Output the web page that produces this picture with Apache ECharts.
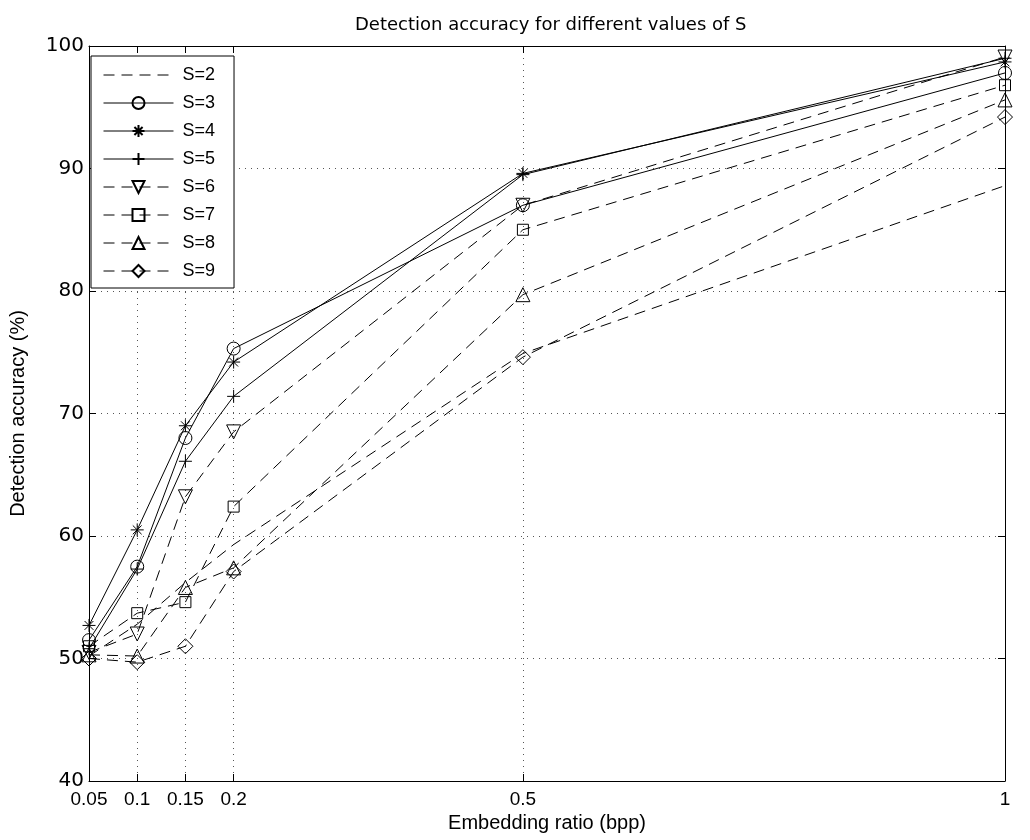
<!DOCTYPE html>
<html>
<head>
<meta charset="utf-8">
<script src="https://cdn.jsdelivr.net/npm/echarts@6/dist/echarts.min.js"></script>
<style>
  html, body { margin: 0; padding: 0; background: #ffffff; }
  #chart { width: 1030px; height: 840px; }
</style>
</head>
<body>
<div id="chart"></div>
<script>
// ratios de inserción (eje x) y ticks
const ratios = [0.05, 0.1, 0.15, 0.2, 0.5, 1];
const yTicks = [40, 50, 60, 70, 80, 90, 100];

// precisión de detección (%) para cada S
const s2 = [50.2, 52.8, 56.2, 59.3, 74.9, 88.6];
const s3 = [51.5, 57.5, 68.0, 75.3, 87.0, 97.8];
const s4 = [52.7, 60.5, 69.0, 74.2, 89.6, 98.7];
const s5 = [50.8, 57.3, 66.1, 71.4, 89.5, 99.0];
const s6 = [50.5, 52.0, 63.2, 68.5, 87.0, 99.1];
const s7 = [51.0, 53.7, 54.6, 62.4, 85.0, 96.8];
const s8 = [50.3, 50.2, 55.8, 57.4, 79.7, 95.6];
const s9 = [50.0, 49.7, 51.0, 57.1, 74.6, 94.2];

const seriesNames = ["S=2", "S=3", "S=4", "S=5", "S=6", "S=7", "S=8", "S=9"];
const seriesValues = [s2, s3, s4, s5, s6, s7, s8, s9];

const FONT = "Liberation Sans";
const WIDE = "DejaVu Sans";
const DASH = [11, 7];

// marcadores estilo MATLAB
const ASTERISK = "path://M5,0L5,10M0,5L10,5M1.6,1.6L8.4,8.4M8.4,1.6L1.6,8.4";
const PLUS = "path://M5,0L5,10M0,5L10,5";
const styles = [
  { dash: true,  symbol: "none",     size: 0 },
  { dash: false, symbol: "circle",   size: 13 },
  { dash: false, symbol: ASTERISK,   size: 13 },
  { dash: false, symbol: PLUS,       size: 13 },
  { dash: true,  symbol: "triangle", size: 14, rotate: 180 },
  { dash: true,  symbol: "rect",     size: 11 },
  { dash: true,  symbol: "triangle", size: 14 },
  { dash: true,  symbol: "diamond",  size: 15 }
];

const series = seriesNames.map((name, i) => {
  const st = styles[i];
  return {
    name: name,
    type: "line",
    data: ratios.map((x, j) => [x, seriesValues[i][j]]),
    symbol: st.symbol,
    symbolSize: st.size,
    symbolRotate: st.rotate || 0,
    showSymbol: st.symbol !== "none",
    animation: false,
    lineStyle: { color: "#000", width: 1, type: st.dash ? DASH : "solid" },
    itemStyle: { color: "rgba(0,0,0,0)", borderColor: "#000", borderWidth: 1 },
    emphasis: { disabled: true }
  };
});

// S=2 no lleva marcador en la leyenda
const legendData = seriesNames.map((n, i) =>
  i === 0
    ? { name: n, itemStyle: { color: "rgba(0,0,0,0)", borderColor: "rgba(0,0,0,0)", borderWidth: 0 } }
    : { name: n }
);

const chart = echarts.init(document.getElementById("chart"));

const tickStyle = { show: true, inside: true, length: 7, lineStyle: { color: "#000", width: 1 } };
const gridLine = { show: true, lineStyle: { color: "#555", width: 1, type: [1, 5] } };

const option = {
  backgroundColor: "#ffffff",
  animation: false,
  title: {
    text: "Detection accuracy for different values of S",
    left: 350,
    top: 11,
    textStyle: { fontFamily: WIDE, fontSize: 18, fontWeight: "normal", color: "#000" }
  },
  grid: { left: 88, right: 25, top: 46, bottom: 59 },
  legend: {
    orient: "vertical",
    left: 91,
    top: 56,
    padding: [10, 19, 8, 12],
    itemWidth: 70,
    itemHeight: 15,
    itemGap: 10,
    backgroundColor: "#fff",
    borderColor: "#000",
    borderWidth: 1,
    borderRadius: 0,
    lineStyle: { width: 1 },
    textStyle: { fontFamily: FONT, fontSize: 18, color: "#000", padding: [0, 0, 0, 4] },
    data: legendData
  },
  xAxis: [
    {
      type: "value",
      min: 0.05,
      max: 1,
      name: "Embedding ratio (bpp)",
      nameLocation: "middle",
      nameGap: 32,
      nameTextStyle: { fontFamily: FONT, fontSize: 20, color: "#000" },
      axisLine: { show: true, lineStyle: { color: "#000", width: 1 } },
      axisTick: Object.assign({ customValues: ratios }, tickStyle),
      axisLabel: {
        customValues: ratios,
        fontFamily: FONT, fontSize: 19, color: "#000", margin: 9,
        formatter: v => String(v)
      },
      splitLine: gridLine
    },
    {
      type: "value",
      position: "top",
      min: 0.05,
      max: 1,
      axisLine: { show: true, lineStyle: { color: "#000", width: 1 } },
      axisTick: Object.assign({ customValues: ratios }, tickStyle),
      axisLabel: { show: false },
      splitLine: { show: false }
    }
  ],
  yAxis: [
    {
      type: "value",
      min: yTicks[0],
      max: yTicks[yTicks.length - 1],
      interval: 10,
      name: "Detection accuracy (%)",
      nameLocation: "middle",
      nameGap: 61,
      nameTextStyle: { fontFamily: FONT, fontSize: 20, color: "#000" },
      axisLine: { show: true, lineStyle: { color: "#000", width: 1 } },
      axisTick: tickStyle,
      axisLabel: { fontFamily: WIDE, fontSize: 20, color: "#000", margin: 5 },
      splitLine: gridLine
    },
    {
      type: "value",
      position: "right",
      min: yTicks[0],
      max: yTicks[yTicks.length - 1],
      interval: 10,
      axisLine: { show: true, lineStyle: { color: "#000", width: 1 } },
      axisTick: tickStyle,
      axisLabel: { show: false },
      splitLine: { show: false }
    }
  ],
  series: series
};

chart.setOption(option);
</script>
</body>
</html>
